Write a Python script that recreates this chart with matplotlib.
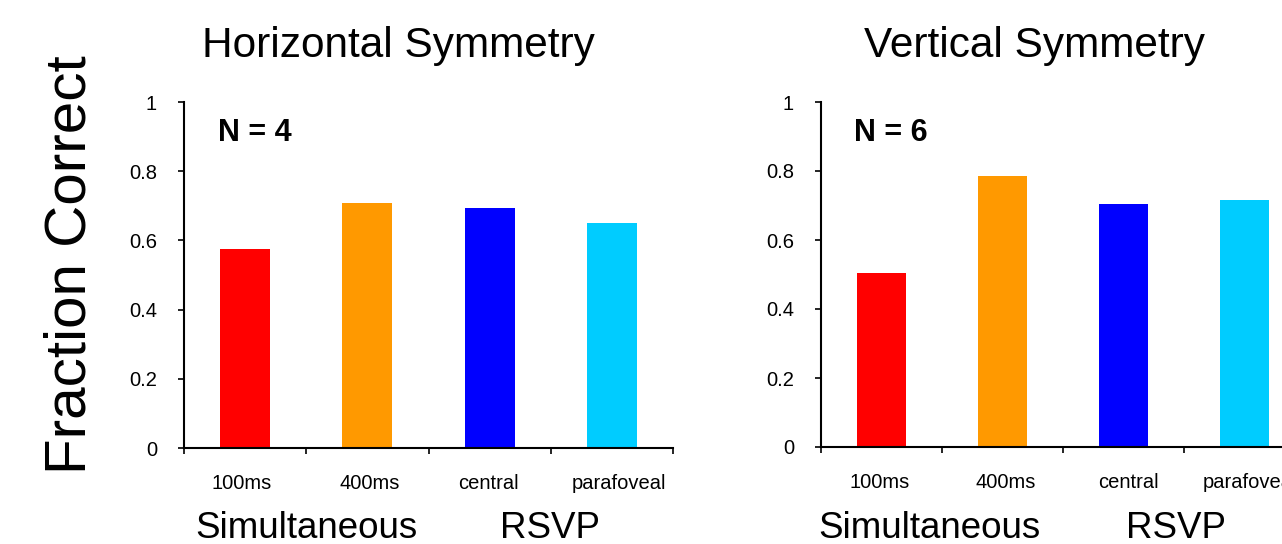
import matplotlib
matplotlib.use("Agg")
import matplotlib.pyplot as plt
import numpy as np

plt.rcParams['font.family'] = ['Liberation Sans', 'DejaVu Sans']

conditions = ["100ms", "400ms", "central", "parafoveal"]
bar_colors = ["#FF0000", "#FF9900", "#0000FF", "#00CCFF"]
horizontal_frac = [0.576, 0.709, 0.694, 0.651]
vertical_frac = [0.504, 0.785, 0.704, 0.715]
panel_titles = ["Horizontal Symmetry", "Vertical Symmetry"]
panel_n = ["N = 4", "N = 6"]
y_ticks = [0, 0.2, 0.4, 0.6, 0.8, 1]
y_tick_labels = ["0", "0.2", "0.4", "0.6", "0.8", "1"]
# condition labels are not exactly under the bar centres in the original
label_pos = [[-0.03, 1.016, 1.99, 3.055], [-0.016, 1.03, 2.04, 3.045]]

W, H = 1282, 544
fig = plt.figure(figsize=(W / 100, H / 100), dpi=100)


def px_axes(x0, y0, x1, y1):
    # pixel box (top-left origin) -> figure fraction
    return fig.add_axes([x0 / W, 1 - y1 / H, (x1 - x0) / W, (y1 - y0) / H])


ax1 = px_axes(184, 102, 673, 448)
ax2 = px_axes(821, 102, 1305, 447)

for ax, vals, n, lpos in zip([ax1, ax2], [horizontal_frac, vertical_frac], panel_n, label_pos):
    x = np.arange(len(conditions))
    ax.bar(x, vals, width=0.41, color=bar_colors)
    ax.set_xlim(-0.5, len(conditions) - 0.5)
    ax.set_ylim(0, 1)
    ax.spines['top'].set_visible(False)
    ax.spines['right'].set_visible(False)
    ax.spines['left'].set_linewidth(1.5)
    ax.spines['bottom'].set_linewidth(1.5)
    ax.set_yticks(y_ticks)
    ax.set_yticklabels(y_tick_labels, fontsize=14.5)
    ax.tick_params(axis='y', direction='out', length=4.5, width=1.2, pad=15)
    ax.set_xticks(lpos)
    ax.set_xticklabels(conditions, fontsize=14.5)
    ax.tick_params(axis='x', which='major', length=0, pad=19)
    ax.set_xticks(np.arange(-0.5, len(conditions)), minor=True)
    ax.tick_params(axis='x', which='minor', direction='out', length=4.5, width=1.2)
    ax.text(0.069, 0.888, n, transform=ax.transAxes, fontsize=22, fontweight='bold',
            va='baseline', ha='left')

# panel titles and group labels placed in pixel coords
fig.text(398 / W, 1 - 57 / H, panel_titles[0], fontsize=30.5, ha='center', va='baseline')
fig.text(1035 / W, 1 - 57 / H, panel_titles[1], fontsize=30.5, ha='center', va='baseline')
fig.text(306 / W, 1 - 538 / H, "Simultaneous", fontsize=26.5, ha='center', va='baseline')
fig.text(550 / W, 1 - 538 / H, "RSVP", fontsize=26.5, ha='center', va='baseline')
fig.text(929 / W, 1 - 538 / H, "Simultaneous", fontsize=26.5, ha='center', va='baseline')
fig.text(1176 / W, 1 - 538 / H, "RSVP", fontsize=26.5, ha='center', va='baseline')
fig.text(71 / W, 1 - 265 / H, "Fraction Correct", fontsize=42, rotation=90,
         ha='center', va='center')

fig.savefig("out.png", dpi=100)
